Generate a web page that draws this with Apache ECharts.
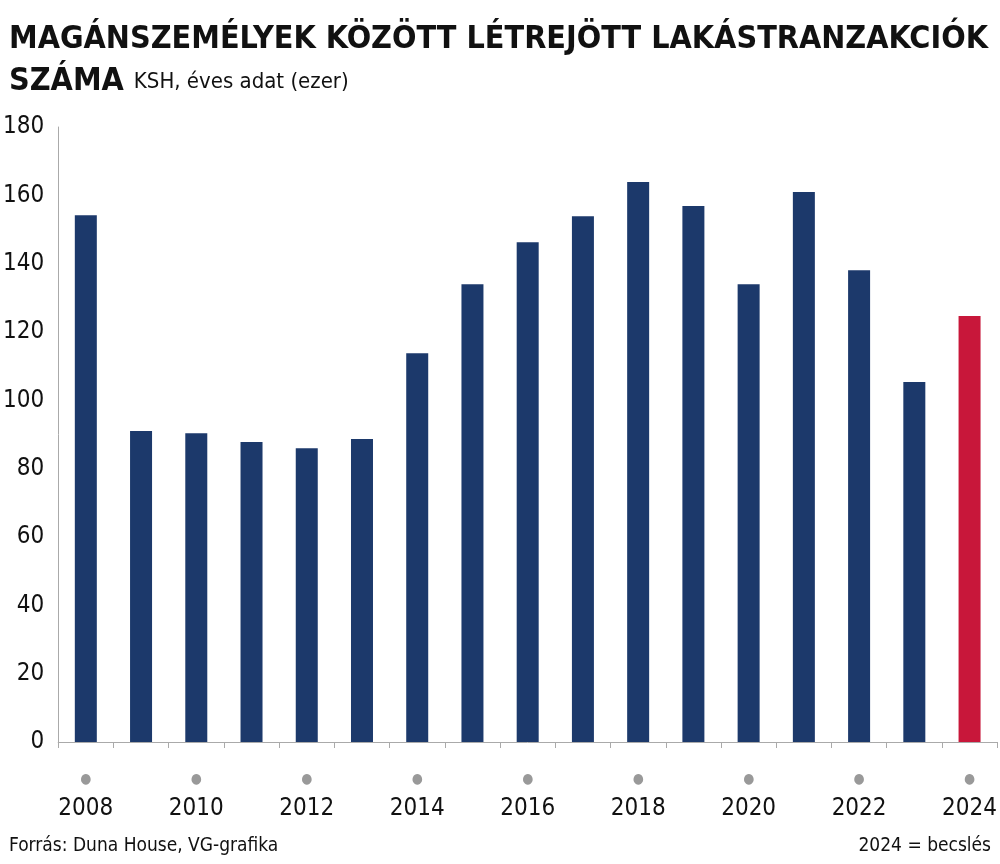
<!DOCTYPE html>
<html><head><meta charset="utf-8">
<script src="https://cdn.jsdelivr.net/npm/echarts@6/dist/echarts.min.js"></script>
<style>body{margin:0}#main{width:1000px;height:864px}</style>
</head><body><div id="main"></div>
<script>
var years = ['2008','2009','2010','2011','2012','2013','2014','2015','2016','2017','2018','2019','2020','2021','2022','2023','2024'];
var values = [154.2, 91.0, 90.4, 87.8, 86.0, 88.7, 113.8, 134.0, 146.3, 153.9, 163.9, 156.9, 134.0, 161.0, 138.1, 105.4, 124.7];
var estimateYear = '2024';
var yTicks = [0, 20, 40, 60, 80, 100, 120, 140, 160, 180];

var FONT = '"Liberation Sans Narrow", "DejaVu Sans Condensed", sans-serif';
var myChart = echarts.init(document.getElementById('main'));
var option = {
	textStyle: { fontFamily: FONT },
	title: [{
		text: 'MAGÁNSZEMÉLYEK KÖZÖTT LÉTREJÖTT LAKÁSTRANZAKCIÓK\n{b|SZÁMA} {s|KSH, éves adat (ezer)}',
		left: 4, top: 14,
		textStyle: {
			fontFamily: FONT, fontSize: 32, fontWeight: 'bold', color: '#111', lineHeight: 42,
			rich: {
				b: { fontFamily: FONT, fontSize: 32, fontWeight: 'bold', color: '#111' },
				s: { fontFamily: FONT, fontSize: 22, fontWeight: 'normal', color: '#111' }
			}
		}
	}, {
		text: 'Forrás: Duna House, VG-grafika', left: 4, top: 832,
		textStyle: { fontFamily: FONT, fontSize: 19, fontWeight: 'normal', color: '#111' }
	}, {
		text: '2024 = becslés', right: 4, top: 832,
		textStyle: { fontFamily: FONT, fontSize: 19, fontWeight: 'normal', color: '#111' }
	}],
	grid: { left: 58, right: 2, top: 127, bottom: 122, containLabel: false },
	xAxis: {
		type: 'category', data: years,
		axisLine: { lineStyle: { color: '#aaa' } },
		axisTick: { show: true, alignWithLabel: false, length: 6, lineStyle: { color: '#aaa' } },
		axisLabel: {
			interval: 0, margin: 22,
			formatter: function (v) {
				return (+v % 2 === 0) ? '{d|●}\n{y|' + v + '}' : '';
			},
			rich: {
				d: { color: '#999', fontSize: 14, lineHeight: 30 },
				y: { color: '#111', fontSize: 24, fontFamily: FONT, lineHeight: 30 }
			}
		}
	},
	yAxis: {
		type: 'value', min: 0, max: 180, interval: 20,
		axisLine: { show: true, lineStyle: { color: '#aaa' } },
		axisTick: { show: false },
		splitLine: { show: false },
		axisLabel: { color: '#111', fontSize: 24, fontFamily: FONT, margin: 14,
			formatter: function (v) { return yTicks.indexOf(v) >= 0 ? v : ''; } }
	},
	series: [{
		type: 'bar', barWidth: 22,
		data: values.map(function (v, i) {
			return { value: v, itemStyle: { color: years[i] === estimateYear ? '#c8173a' : '#1c396b' } };
		})
	}]
};
myChart.setOption(option);
</script></body></html>
